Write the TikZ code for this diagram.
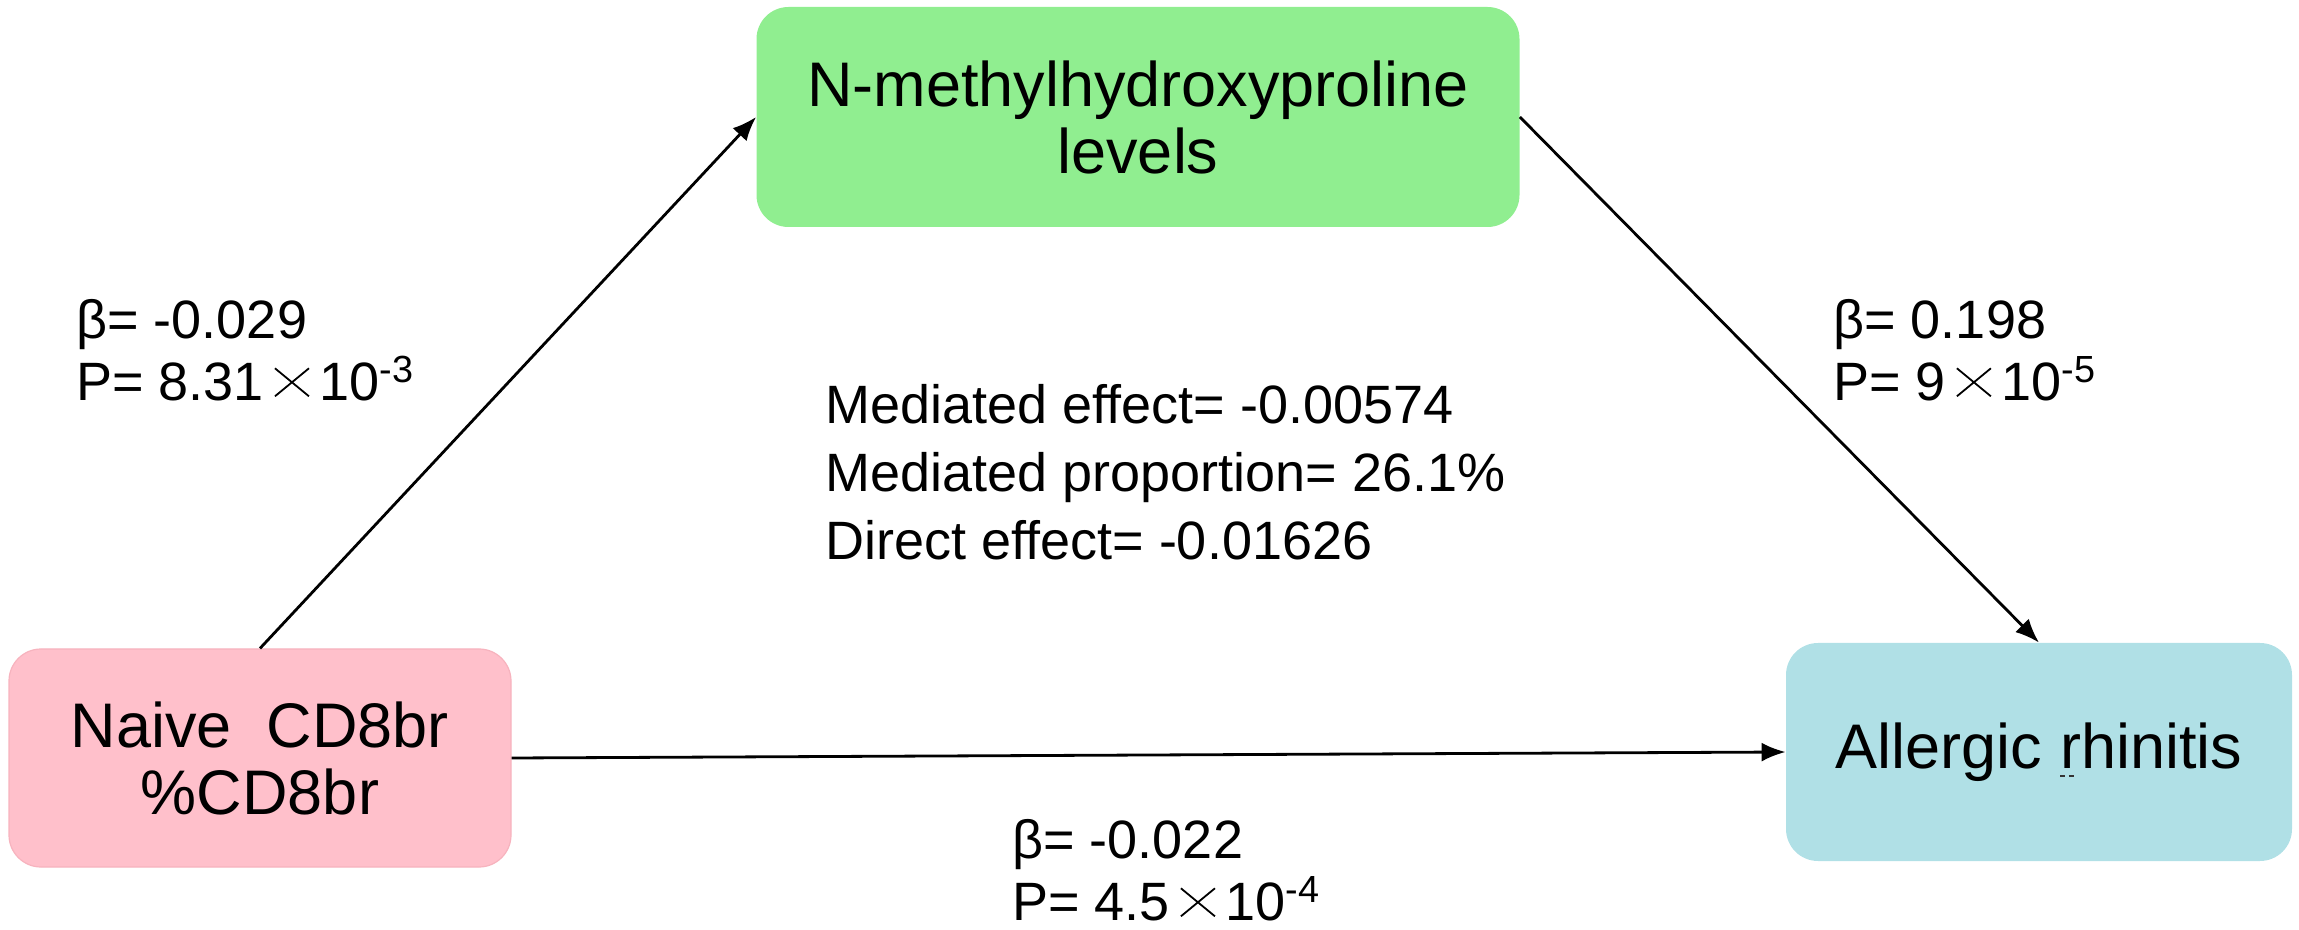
\documentclass[tikz,border=0pt]{standalone}
\usepackage{fontspec}
\setmainfont{Liberation Sans}
\usetikzlibrary{arrows.meta}
\definecolor{boxgreen}{HTML}{90EE90}
\definecolor{boxpink}{HTML}{FFC0CB}
\definecolor{pinkedge}{HTML}{F7B3BE}
\definecolor{boxblue}{HTML}{B0E0E6}
\newcommand{\myexp}[1]{\textsuperscript{#1}}
\newcommand{\mytimes}{\hspace{5pt}\tikz[x=1pt,y=1pt,baseline=0pt]{\draw[line width=0.9pt,black] (0,2)--(17,16) (0,16)--(17,2);}\hspace{5pt}}
\tikzset{
  box/.style={rounded corners=16pt, align=center, inner sep=0pt,
    font=\fontsize{31.5}{33.5}\selectfont},
  lab/.style={anchor=west, align=left, inner sep=0pt,
    font=\fontsize{27}{31}\selectfont},
  arr/.style={-{Latex[length=12pt,width=9.5pt]}, line width=1.4pt, black},
}
\begin{document}
\begin{tikzpicture}[x=0.5pt,y=-0.5pt]
\useasboundingbox (0,0) rectangle (2299,930);
\node[box, fill=boxgreen, minimum width=381.5pt, minimum height=110pt] (med) at (1138,117) {N-methylhydroxyproline\\levels};
\node[box, fill=boxpink, draw=pinkedge, line width=0.6pt, minimum width=251pt, minimum height=109pt] (exp) at (260,758) {Naive~~CD8br\\\%CD8br};
\node[box, fill=boxblue, minimum width=253pt, minimum height=109pt] (out) at (2039,752) {Allergic \rlap{\raisebox{-4.5pt}{\color{black!80}\rule{2.6pt}{1pt}\hspace{1.8pt}\rule{2.6pt}{1pt}}}rhinitis};
\draw[arr] (exp.north) -- (med.west);
\draw[arr] (med.east) -- (out.north);
\draw[arr] (exp.east) -- (out.west);
\node[lab] (la) at (76,350) {β= -0.029\\P= 8.31\mytimes 10\myexp{-3}};
\node[lab] (lb) at (1833,350) {β= 0.198\\P= 9\mytimes 10\myexp{-5}};
\node[lab, font=\fontsize{27}{34}\selectfont] (lc) at (825,472) {Mediated effect= -0.00574\\Mediated proportion= 26.1\%\\Direct effect= -0.01626};
\node[lab] (ld) at (1012,870) {β= -0.022\\P= 4.5\mytimes 10\myexp{-4}};
\end{tikzpicture}
\end{document}
